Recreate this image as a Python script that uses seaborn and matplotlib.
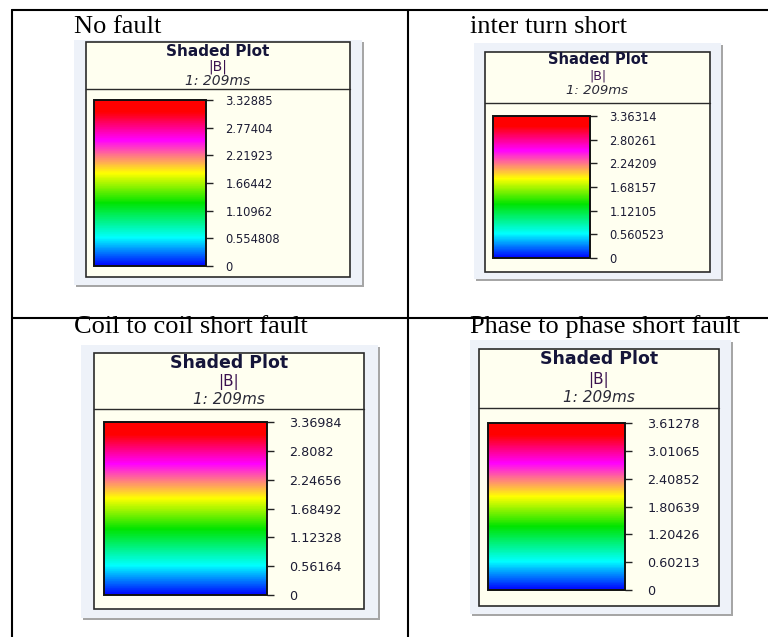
import matplotlib
matplotlib.use('Agg')
import matplotlib.pyplot as plt
from matplotlib.colors import LinearSegmentedColormap
from matplotlib.patches import Rectangle
import numpy as np
import seaborn as sns

titles = ['No fault', 'inter turn short', 'Coil to coil short fault', 'Phase to phase short fault']
no_fault = ['0', '0.554808', '1.10962', '1.66442', '2.21923', '2.77404', '3.32885']
inter_turn = ['0', '0.560523', '1.12105', '1.68157', '2.24209', '2.80261', '3.36314']
coil_to_coil = ['0', '0.56164', '1.12328', '1.68492', '2.24656', '2.8082', '3.36984']
phase_to_phase = ['0', '0.60213', '1.20426', '1.80639', '2.40852', '3.01065', '3.61278']
tick_sets = [no_fault, inter_turn, coil_to_coil, phase_to_phase]
header = ['Shaded Plot', '|B|', '1: 209ms']

W, H = 768, 637

# pixel layout of each legend box (x0, y0, x1, y1), image coords, y down
panels = [
    dict(outer=(74, 40, 362, 285), inner=(86, 42, 350, 277), div=89,
         bar=(94, 100, 206, 266), title=(74, 33), head_y=(51, 67, 81),
         fs=(11, 10, 10), tick_fs=8.3, pad=9),
    dict(outer=(474, 43, 721, 279), inner=(485, 52, 710, 272), div=103,
         bar=(493, 116, 590, 258), title=(470, 33), head_y=(60, 76, 90),
         fs=(10.5, 9, 9.5), tick_fs=8.3, pad=9),
    dict(outer=(81, 345, 378, 618), inner=(94, 353, 364, 609), div=409,
         bar=(104, 422, 267, 595), title=(74, 333), head_y=(363, 382, 400),
         fs=(12.5, 11, 11), tick_fs=9.2, pad=11),
    dict(outer=(470, 340, 731, 614), inner=(479, 349, 719, 606), div=408,
         bar=(488, 423, 625, 590), title=(470, 333), head_y=(359, 380, 398),
         fs=(12.5, 11, 11), tick_fs=9.2, pad=11),
]

spectrum = LinearSegmentedColormap.from_list('maxwell', [
    (0.0, '#0000ff'), (0.17, '#00ffff'), (0.38, '#00e400'),
    (0.56, '#ffff00'), (0.76, '#ff00ff'), (0.93, '#ff0000'), (1.0, '#ff0000')])

sns.set_style('white')
fig = plt.figure(figsize=(W / 100, H / 100), dpi=100)
ax = fig.add_axes([0, 0, 1, 1])
ax.set_xlim(0, W)
ax.set_ylim(H, 0)
ax.axis('off')

# table rules
lw = 1.5
ax.plot([12, W], [10, 10], color='black', lw=lw)
ax.plot([12, W], [318, 318], color='black', lw=lw)
ax.plot([12, 12], [10, H], color='black', lw=lw)
ax.plot([408, 408], [10, H], color='black', lw=lw)


def px_rect(x0, y0, x1, y1):
    return [x0 / W, 1 - y1 / H, (x1 - x0) / W, (y1 - y0) / H]


for title, labels, p in zip(titles, tick_sets, panels):
    tx, ty = p['title']
    ax.text(tx, ty, title, family='Liberation Serif', fontsize=19,
            va='baseline', ha='left', color='black')

    ox0, oy0, ox1, oy1 = p['outer']
    ax.add_patch(Rectangle((ox0 + 2, oy0 + 2), ox1 - ox0, oy1 - oy0,
                           facecolor='#a6a6a6', edgecolor='none', zorder=1))
    ax.add_patch(Rectangle((ox0, oy0), ox1 - ox0, oy1 - oy0,
                           facecolor='#eef2f9', edgecolor='none', zorder=2))
    ix0, iy0, ix1, iy1 = p['inner']
    ax.add_patch(Rectangle((ix0, iy0), ix1 - ix0, iy1 - iy0,
                           facecolor='#fffff0', edgecolor='#2b2b2b', lw=1.2, zorder=3))
    ax.plot([ix0, ix1], [p['div'], p['div']], color='#2b2b2b', lw=1.0, zorder=4)

    cx = (ix0 + ix1) / 2
    hy = p['head_y']
    ax.text(cx, hy[0], header[0], fontsize=p['fs'][0], fontweight='bold',
            ha='center', va='center', color='#15153a', zorder=5)
    ax.text(cx, hy[1], header[1], fontsize=p['fs'][1],
            ha='center', va='center', color='#3b1250', zorder=5)
    ax.text(cx, hy[2], header[2], fontsize=p['fs'][2], style='italic',
            ha='center', va='center', color='#2a2a38', zorder=5)

    values = [float(v) for v in labels]
    cax = fig.add_axes(px_rect(*p['bar']))
    hid = fig.add_axes([0, 0, 0.01, 0.01])
    sns.heatmap(np.array([[values[0], values[-1]]]), ax=hid, cbar_ax=cax,
                cmap=spectrum, vmin=values[0], vmax=values[-1],
                cbar_kws={'ticks': values})
    hid.set_visible(False)
    cb = hid.collections[0].colorbar
    cb.outline.set_visible(True)
    cb.outline.set_linewidth(1.4)
    cb.outline.set_edgecolor('#111111')
    cb.set_ticks(values)
    cb.set_ticklabels(labels)
    cax.tick_params(axis='y', length=5, width=1, color='#222222', pad=p['pad'],
                    labelsize=p['tick_fs'], labelcolor='#1c1c34', right=True)

fig.savefig('out.png', dpi=100)
